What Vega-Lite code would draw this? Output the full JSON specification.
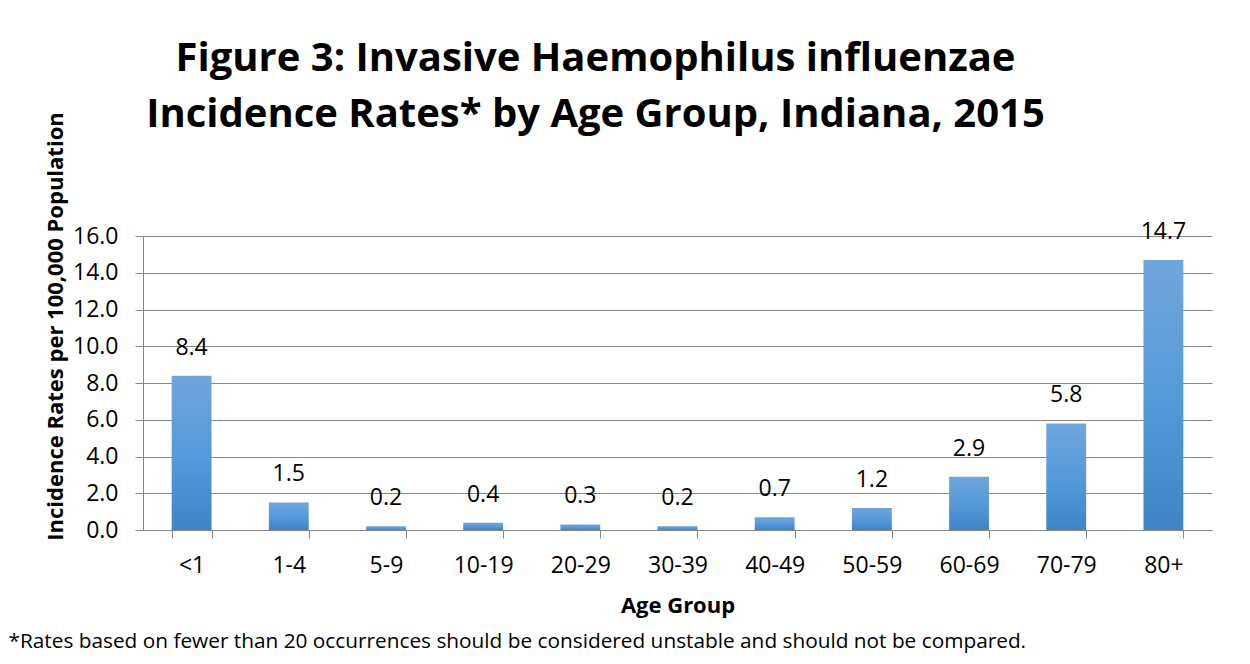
{
  "$schema": "https://vega.github.io/schema/vega-lite/v6.json",
  "autosize": {"type": "none"},
  "width": 1069,
  "height": 294,
  "padding": {"left": 143, "top": 236, "right": 38, "bottom": 134},
  "background": "white",
  "config": {
    "font": "Open Sans",
    "view": {"stroke": null},
    "axis": {"labelColor": "#000000", "titleColor": "#000000"}
  },
  "title": {
    "text": ["Figure 3: Invasive Haemophilus influenzae", "Incidence Rates* by Age Group, Indiana, 2015"],
    "font": "Open Sans",
    "fontSize": 40,
    "fontWeight": "bold",
    "color": "#000000",
    "lineHeight": 56,
    "anchor": "middle",
    "frame": "group",
    "dx": -82,
    "offset": -23
  },
  "data": {
    "values": [
      {"age": "<1", "rate": 8.4},
      {"age": "1-4", "rate": 1.5},
      {"age": "5-9", "rate": 0.2},
      {"age": "10-19", "rate": 0.4},
      {"age": "20-29", "rate": 0.3},
      {"age": "30-39", "rate": 0.2},
      {"age": "40-49", "rate": 0.7},
      {"age": "50-59", "rate": 1.2},
      {"age": "60-69", "rate": 2.9},
      {"age": "70-79", "rate": 5.8},
      {"age": "80+", "rate": 14.7}
    ]
  },
  "encoding": {
    "y": {
      "field": "rate", "type": "quantitative",
      "scale": {"domain": [0, 16], "nice": false},
      "axis": {
        "title": "Incidence Rates per 100,000 Population",
        "titleFont": "Open Sans",
        "titleFontSize": 22,
        "titleFontWeight": "bold",
        "titleBaseline": "alphabetic",
        "titleAngle": -90,
        "titleAlign": "center",
        "titleX": -81,
        "titleY": 90,
        "values": [0, 2, 4, 6, 8, 10, 12, 14, 16],
        "format": ".1f",
        "labelFontSize": 23,
        "labelPadding": 17,
        "tickSize": 8,
        "tickColor": "#878787",
        "domainColor": "#878787",
        "gridColor": "#878787",
        "grid": true
      }
    }
  },
  "layer": [
    {
      "mark": {
        "type": "bar",
        "color": {
          "gradient": "linear",
          "x1": 0, "y1": 0, "x2": 0, "y2": 1,
          "stops": [
            {"offset": 0, "color": "#71a5dc"},
            {"offset": 0.5, "color": "#559ad9"},
            {"offset": 1, "color": "#3f84c6"}
          ]
        }
      },
      "encoding": {
        "x": {
          "field": "age", "type": "nominal", "sort": null,
          "scale": {"paddingInner": 0.59, "paddingOuter": 0.295},
          "axis": {
            "title": "Age Group",
            "titleFont": "Open Sans",
            "titleFontSize": 22,
            "titleFontWeight": "bold",
            "titleBaseline": "alphabetic",
            "titleY": 82,
            "labelAngle": 0,
            "labelFontSize": 23,
            "labelPadding": 16,
            "tickBand": "extent",
            "tickSize": 8,
            "tickColor": "#878787",
            "domainColor": "#878787",
            "grid": false
          }
        }
      }
    },
    {
      "mark": {"type": "text", "baseline": "alphabetic", "dy": -21, "fontSize": 23, "color": "#000000"},
      "encoding": {
        "x": {
          "field": "age", "type": "nominal", "sort": null,
          "axis": {
            "orient": "bottom",
            "title": "*Rates based on fewer than 20 occurrences should be considered unstable and should not be compared.",
            "titleFont": "Open Sans",
            "titleFontSize": 20.8,
            "titleFontWeight": "normal",
            "titleBaseline": "alphabetic",
            "titleAlign": "left",
            "titleAnchor": "start",
            "titleX": -135,
            "titleY": 117,
            "labels": false,
            "ticks": false,
            "domain": false,
            "grid": false
          }
        },
        "text": {"field": "rate", "type": "quantitative", "format": ".1f"}
      }
    }
  ],
  "resolve": {"axis": {"x": "independent"}}
}
